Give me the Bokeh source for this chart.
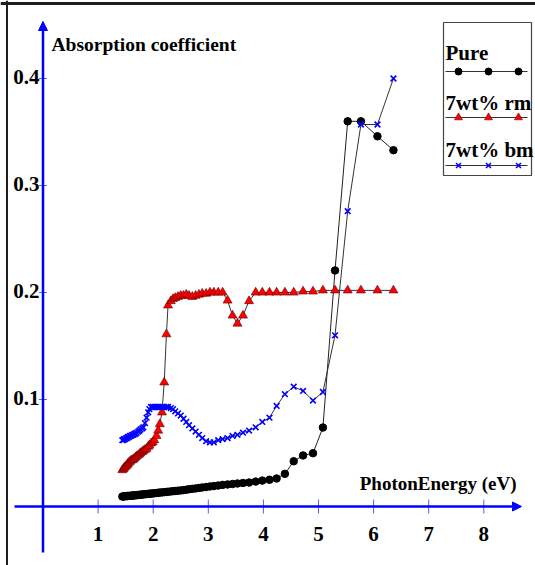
from bokeh.plotting import figure
from bokeh.models import Range1d, Arrow, NormalHead
from bokeh.embed import file_html
from bokeh.resources import INLINE
from bokeh.core.properties import value

# Photon energy (eV) shared by all three samples
energy = [1.44, 1.46, 1.47, 1.49, 1.51, 1.53, 1.54, 1.56, 1.58, 1.60,
          1.62, 1.64, 1.66, 1.68, 1.70, 1.73, 1.75, 1.77, 1.80, 1.82,
          1.85, 1.88, 1.91, 1.93, 1.96, 1.99, 2.02, 2.06, 2.09, 2.12,
          2.16, 2.20, 2.24, 2.27, 2.32, 2.36, 2.40, 2.45, 2.50, 2.55,
          2.60, 2.65, 2.71, 2.77, 2.83, 2.89, 2.96, 3.03, 3.10, 3.18,
          3.26, 3.35, 3.44, 3.53, 3.63, 3.74, 3.86, 3.98, 4.11, 4.24,
          4.39, 4.55, 4.72, 4.90, 5.08, 5.30, 5.53, 5.77, 6.07, 6.36]

pure = [0.0093, 0.0094, 0.0095, 0.0096, 0.0097, 0.0098, 0.0098, 0.0099, 0.0100, 0.0101,
        0.0102, 0.0103, 0.0104, 0.0105, 0.0106, 0.0108, 0.0109, 0.0110, 0.0112, 0.0113,
        0.0115, 0.0116, 0.0118, 0.0119, 0.0121, 0.0122, 0.0124, 0.0126, 0.0128, 0.0130,
        0.0132, 0.0134, 0.0136, 0.0138, 0.0141, 0.0143, 0.0145, 0.0148, 0.0150, 0.0153,
        0.0157, 0.0161, 0.0165, 0.0169, 0.0173, 0.0178, 0.0182, 0.0187, 0.0191, 0.0196,
        0.0202, 0.0206, 0.0210, 0.0215, 0.0220, 0.0224, 0.0233, 0.0242, 0.0250, 0.0262,
        0.0305, 0.0423, 0.0477, 0.0498, 0.0738, 0.2206, 0.3600, 0.3600, 0.3460, 0.3330]

rm7 = [0.034, 0.035, 0.036, 0.037, 0.038, 0.039, 0.040, 0.041, 0.042, 0.043,
       0.0435, 0.044, 0.045, 0.046, 0.047, 0.048, 0.049, 0.050, 0.051, 0.052,
       0.053, 0.054, 0.056, 0.057, 0.059, 0.060, 0.062, 0.066, 0.071, 0.077,
       0.088, 0.116, 0.161, 0.188, 0.192, 0.194, 0.195, 0.196, 0.197, 0.197,
       0.198, 0.197, 0.196, 0.197, 0.198, 0.199, 0.199, 0.200, 0.200, 0.200,
       0.200, 0.1925, 0.1785, 0.171, 0.1785, 0.192, 0.200, 0.200, 0.200, 0.200,
       0.200, 0.200, 0.201, 0.201, 0.202, 0.202, 0.202, 0.202, 0.202, 0.202]

bm7 = [0.062, 0.062, 0.063, 0.063, 0.064, 0.064, 0.065, 0.065, 0.066, 0.066,
       0.067, 0.067, 0.068, 0.068, 0.069, 0.070, 0.071, 0.072, 0.073, 0.074,
       0.078, 0.083, 0.088, 0.091, 0.093, 0.093, 0.093, 0.093, 0.093, 0.093,
       0.093, 0.093, 0.093, 0.093, 0.092, 0.091, 0.089, 0.087, 0.085, 0.082,
       0.079, 0.076, 0.073, 0.070, 0.067, 0.064, 0.061, 0.060, 0.060, 0.062,
       0.063, 0.064, 0.066, 0.067, 0.069, 0.071, 0.074, 0.079, 0.083, 0.094,
       0.105, 0.112, 0.108, 0.099, 0.107, 0.160, 0.276, 0.357, 0.357, 0.400]

x_ticks = [1, 2, 3, 4, 5, 6, 7, 8]
x_tick_labels = ["1", "2", "3", "4", "5", "6", "7", "8"]
y_ticks = [0.1, 0.2, 0.3, 0.4]
y_tick_labels = ["0.1", "0.2", "0.3", "0.4"]

series_names = ["Pure", "7wt% rm", "7wt% bm"]
y_title = "Absorption coefficient"
x_title = "PhotonEnergy (eV)"

W, H = 535, 565
X0, X1 = -0.7713, 8.9383
Y0, Y1 = -0.05514, 0.47290


def px_x(px):
    return X0 + px / W * (X1 - X0)


def px_y(py):
    return Y1 - py / H * (Y1 - Y0)


FONT = value("Liberation Serif")
AXIS_BLUE = "#0000ff"
TICK_BLUE = "#5a5aff"
TEXT_STYLE = dict(text_font=FONT, text_font_style="bold", text_color="black")

p = figure(width=W, height=H, output_backend="svg", toolbar_location=None,
           x_axis_type=None, y_axis_type=None, min_border=0,
           x_range=Range1d(X0, X1), y_range=Range1d(Y0, Y1))
p.outline_line_color = None
p.background_fill_color = "white"
p.border_fill_color = "white"

# page frame lines (top and left)
p.line([px_x(0), px_x(W)], [px_y(3), px_y(3)], line_color="#1e1e1e", line_width=3)
p.line([px_x(6.5), px_x(6.5)], [px_y(0), px_y(H)], line_color="#1e1e1e", line_width=2)

# hand-drawn style axes with arrow heads
p.add_layout(Arrow(end=NormalHead(size=9, fill_color=AXIS_BLUE, line_color=AXIS_BLUE),
                   x_start=px_x(14), y_start=0, x_end=px_x(521), y_end=0,
                   line_color=AXIS_BLUE, line_width=2.5))
p.add_layout(Arrow(end=NormalHead(size=9, fill_color=AXIS_BLUE, line_color=AXIS_BLUE),
                   x_start=0, y_start=px_y(552), x_end=0, y_end=px_y(21),
                   line_color=AXIS_BLUE, line_width=2.5))

xt_half = (Y1 - Y0) * 7 / H
yt_half = (X1 - X0) * 4 / W
p.segment(x0=x_ticks, y0=[-xt_half] * len(x_ticks), x1=x_ticks, y1=[xt_half] * len(x_ticks),
          line_color=TICK_BLUE, line_width=1)
p.segment(x0=[-yt_half] * len(y_ticks), y0=y_ticks, x1=[yt_half] * len(y_ticks), y1=y_ticks,
          line_color=TICK_BLUE, line_width=1)

p.text(x=x_ticks, y=[px_y(533)] * len(x_ticks), text=x_tick_labels,
       text_font_size="21px", text_align="center", text_baseline="middle", **TEXT_STYLE)
p.text(x=[px_x(39)] * len(y_ticks), y=y_ticks, text=y_tick_labels,
       text_font_size="21px", text_align="right", text_baseline="middle",
       y_offset=-2, **TEXT_STYLE)

# axis titles (alphabetic anchor sits a few pixels above the drawn baseline)
p.text(x=[px_x(51)], y=[px_y(44)], text=[y_title], text_font_size="19.5px",
       text_align="left", text_baseline="alphabetic", **TEXT_STYLE)
p.text(x=[px_x(516)], y=[px_y(483)], text=[x_title], text_font_size="19px",
       text_align="right", text_baseline="alphabetic", **TEXT_STYLE)

# data series
p.line(energy, pure, line_color="#222222", line_width=1)
p.scatter(energy, pure, marker="circle", size=7.5, fill_color="black", line_color="black")
p.line(energy, rm7, line_color="#333333", line_width=1)
p.scatter(energy, rm7, marker="triangle", size=9, fill_color="#ff0000",
          line_color="#600000", line_width=0.6)
p.line(energy, bm7, line_color="#333333", line_width=1)
p.scatter(energy, bm7, marker="x", size=8, line_color=AXIS_BLUE, line_width=1.6)

# legend box: label above a sample line with three markers
p.quad(left=px_x(443), right=px_x(531), top=px_y(22), bottom=px_y(175),
       fill_color="white", line_color="#444444", line_width=1.2)
label_rows = [52, 102, 149]
line_rows = [71, 117, 165]
marker_cols = [px_x(458), px_x(488), px_x(518)]
styles = [
    dict(marker="circle", size=7, fill_color="black", line_color="black"),
    dict(marker="triangle", size=8, fill_color="#ff0000", line_color="#600000", line_width=0.6),
    dict(marker="x", size=7, line_color=AXIS_BLUE, line_width=1.6),
]
p.text(x=[px_x(445)] * 3, y=[px_y(r) for r in label_rows], text=series_names,
       text_font_size="21px", text_align="left", text_baseline="alphabetic", **TEXT_STYLE)
for sy, st in zip(line_rows, styles):
    p.line([px_x(445), px_x(527)], [px_y(sy), px_y(sy)], line_color="#333333", line_width=1)
    p.scatter(marker_cols, [px_y(sy)] * 3, **st)

open("out.html", "w").write(file_html(p, INLINE))
